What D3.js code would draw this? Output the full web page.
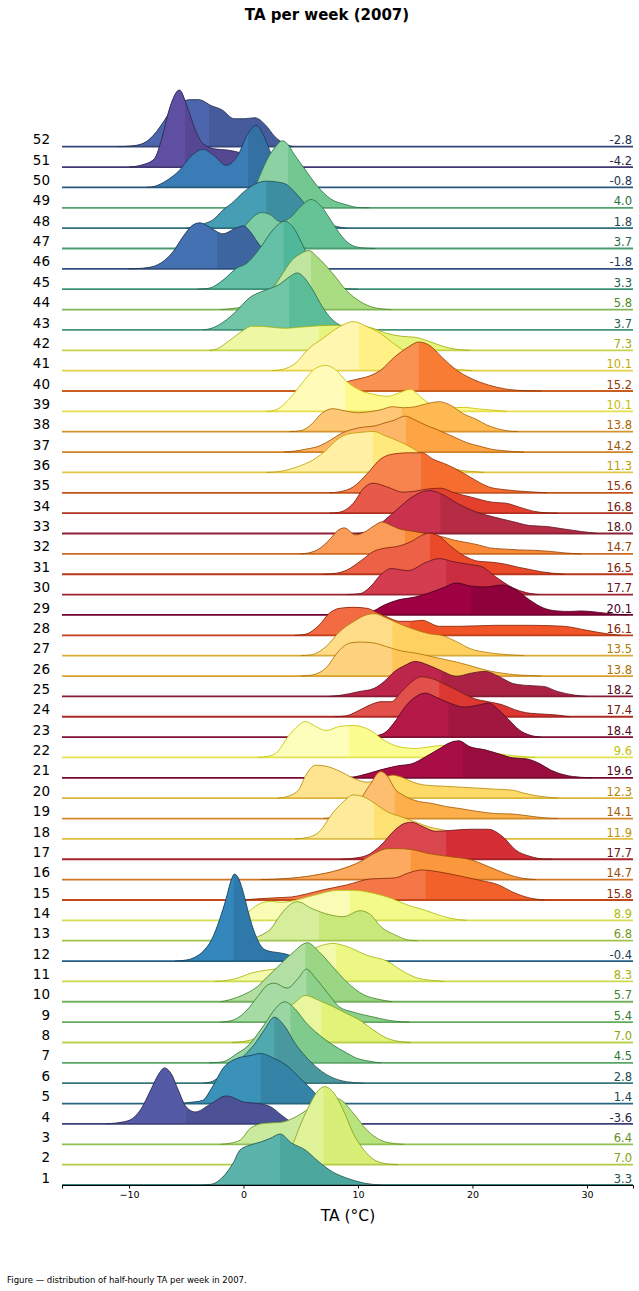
<!DOCTYPE html>
<html><head><meta charset="utf-8">
<script src="https://cdn.jsdelivr.net/npm/d3@7"></script>
<style>
body{margin:0;background:#fff;}
svg{display:block;font-family:"DejaVu Sans",sans-serif;}
</style>
</head><body>
<svg id="chart" width="639" height="1291"></svg>
<script>
// ---------------- DATA ----------------
const weeks = d3.range(1, 53);
const means = [3.3,7.0,6.4,-3.6,1.4,2.8,4.5,7.0,5.4,5.7,8.3,-0.4,6.8,8.9,15.8,14.7,17.7,11.9,14.1,12.3,
  19.6,9.6,18.4,17.4,18.2,13.8,13.5,16.1,20.1,17.7,16.5,14.7,18.0,16.8,15.6,11.3,14.2,13.8,10.1,15.2,
  10.1,7.3,3.7,5.8,3.3,-1.8,3.7,1.8,4.0,-0.8,-4.2,-2.8];
// where each ridge changes from light to dark shade (°C)
const medians = [3.2,7.0,6.2,-5.0,1.5,2.7,4.1,6.8,5.5,5.4,8.1,-0.85,6.6,9.3,15.9,14.6,17.7,11.4,13.2,11.7,
  19.2,9.2,17.9,17.1,17.3,13.0,13.0,14.5,19.9,17.7,16.3,14.1,17.2,16.4,15.5,11.3,14.2,13.8,8.9,15.3,
  10.1,6.6,4.0,5.9,3.5,-2.3,4.1,2.0,3.9,0.4,-5.1,-3.0];
const xTicks = [-10, 0, 10, 20, 30];
// density per week: [TA °C, density (arbitrary units)]
const densities = [
 [[-3.5,0],[-2.7,0.01],[-1.8,0.08],[-0.9,0.22],[-0.3,0.35],[0.6,0.40],[1.5,0.43],[2.4,0.47],[3.2,0.51],[4.2,0.42],[5.4,0.35],[6.6,0.23],[7.8,0.13],[9.0,0.07],[10.5,0.02],[12,0]],
 [[1,0],[2,0.02],[3,0.06],[3.6,0.11],[4.4,0.23],[4.8,0.35],[5.7,0.58],[6.6,0.75],[7.1,0.78],[7.8,0.73],[8.7,0.55],[9.6,0.31],[10.5,0.15],[11.4,0.05],[12.6,0.007],[13.5,0]],
 [[-2,0],[-1.2,0.01],[-0.3,0.04],[0.6,0.16],[1.8,0.21],[3.3,0.22],[4.5,0.27],[5.5,0.34],[6.5,0.42],[7.5,0.47],[8.4,0.45],[9.6,0.31],[10.8,0.14],[12.0,0.04],[13.2,0.007],[14,0]],
 [[-12,0],[-11.1,0.01],[-9.9,0.04],[-9.0,0.14],[-8.1,0.34],[-7.4,0.50],[-6.9,0.56],[-6.3,0.50],[-5.7,0.34],[-5.0,0.17],[-4.2,0.12],[-3.0,0.19],[-1.5,0.28],[0,0.22],[1.5,0.20],[2.4,0.17],[3.3,0.09],[4.2,0.02],[5,0]],
 [[-5.5,0],[-4.8,0.01],[-3.6,0.03],[-2.7,0.17],[-1.8,0.35],[-0.6,0.45],[0.6,0.48],[1.5,0.50],[2.7,0.45],[3.9,0.37],[4.8,0.27],[5.7,0.17],[6.6,0.07],[7.8,0.02],[9,0]],
 [[-3.5,0],[-2.7,0.02],[-1.5,0.12],[-0.6,0.20],[0,0.27],[0.9,0.38],[1.8,0.53],[2.7,0.66],[3.6,0.57],[4.5,0.40],[5.4,0.27],[6.0,0.20],[7.2,0.09],[8.4,0.03],[9.6,0.007],[10.5,0]],
 [[-3,0],[-1.8,0.01],[-0.6,0.09],[0.3,0.16],[1.5,0.33],[2.1,0.43],[2.7,0.53],[3.6,0.61],[4.5,0.54],[5.4,0.41],[6.6,0.28],[7.8,0.18],[9.0,0.10],[9.8,0.05],[10.8,0.02],[12,0]],
 [[-1,0],[0,0.01],[1,0.04],[2,0.12],[3,0.25],[4,0.36],[4.4,0.39],[5.4,0.47],[6.6,0.42],[7.8,0.36],[9.0,0.29],[10.2,0.22],[11.4,0.12],[12.6,0.04],[13.8,0.007],[14.6,0]],
 [[-2,0],[-0.9,0.02],[0.3,0.12],[1.2,0.25],[2.1,0.37],[2.7,0.39],[3.8,0.34],[4.8,0.44],[5.5,0.53],[6.3,0.44],[7.5,0.27],[8.4,0.15],[9.6,0.10],[11.4,0.05],[12.6,0.02],[13.8,0.003],[14.5,0]],
 [[-2,0],[-1.2,0.02],[0,0.07],[1.2,0.15],[2.1,0.25],[3.0,0.35],[4.2,0.48],[5.6,0.59],[6.6,0.50],[7.8,0.35],[9.0,0.20],[10.5,0.07],[12,0.02],[13,0]],
 [[-2.5,0],[-1.8,0.005],[-0.6,0.03],[0.6,0.08],[1.8,0.11],[3.0,0.13],[4.0,0.18],[5.0,0.25],[5.8,0.31],[6.6,0.35],[7.8,0.38],[9.0,0.35],[10.8,0.26],[12.6,0.20],[13.8,0.11],[15.3,0.03],[16.8,0.007],[17.5,0]],
 [[-6,0],[-5,0.01],[-4.2,0.04],[-3.5,0.10],[-2.8,0.21],[-2.1,0.41],[-1.5,0.63],[-1.1,0.80],[-0.8,0.87],[-0.4,0.82],[0,0.68],[0.4,0.50],[0.8,0.34],[1.2,0.22],[1.6,0.14],[2.2,0.10],[3.0,0.085],[3.7,0.07],[4.5,0.04],[5.5,0.015],[7,0]],
 [[0,0],[1,0.03],[1.8,0.07],[2.4,0.12],[3.0,0.22],[3.6,0.31],[4.7,0.39],[6.0,0.32],[7.5,0.26],[8.7,0.24],[10.2,0.30],[11.1,0.26],[12.0,0.14],[13.2,0.06],[14.4,0.007],[15.2,0]],
 [[-1,0],[0,0.04],[0.6,0.10],[1.5,0.17],[2.4,0.19],[3.3,0.18],[4.5,0.20],[5.5,0.23],[6.5,0.26],[7.5,0.29],[8.4,0.30],[9.6,0.30],[11.4,0.27],[12.9,0.22],[14.4,0.15],[15.9,0.10],[17.4,0.04],[18.6,0.01],[19.5,0]],
 [[0,0],[1,0.01],[2.5,0.02],[4.2,0.03],[5.5,0.06],[6.9,0.10],[9.0,0.15],[11.1,0.21],[13.2,0.22],[14.4,0.27],[15.6,0.30],[17.1,0.28],[18.9,0.24],[20.5,0.20],[22.3,0.15],[23.5,0.08],[25.0,0.02],[26.3,0]],
 [[1.5,0],[3.6,0.01],[6.0,0.04],[8.4,0.10],[10.2,0.18],[11.4,0.26],[12.6,0.31],[13.5,0.31],[14.7,0.30],[16.2,0.26],[18.0,0.23],[19.8,0.20],[21.4,0.13],[22.9,0.06],[24.4,0.013],[25.5,0]],
 [[8.5,0],[9.6,0.01],[10.8,0.04],[12.0,0.14],[13.2,0.29],[14.1,0.36],[14.7,0.37],[15.6,0.33],[16.8,0.28],[18.3,0.29],[19.8,0.30],[21.4,0.30],[22.6,0.23],[23.8,0.09],[25,0.03],[26.2,0.003],[27,0]],
 [[4.5,0],[5.4,0.01],[6.6,0.07],[7.8,0.26],[8.7,0.37],[9.6,0.44],[10.5,0.42],[11.4,0.36],[12.6,0.27],[13.8,0.22],[15.0,0.17],[16.2,0.12],[17.4,0.09],[18.6,0.06],[20,0.03],[21.5,0.01],[23,0]],
 [[7,0],[8,0.02],[9,0.07],[10,0.16],[11,0.33],[12,0.47],[12.6,0.42],[13.2,0.30],[14,0.23],[15,0.18],[16.5,0.15],[17.7,0.12],[18.9,0.10],[20.5,0.07],[22,0.05],[23.5,0.045],[25.3,0.02],[26.5,0.005],[27.5,0]],
 [[3,0],[3.6,0.01],[4.8,0.08],[5.4,0.22],[6.3,0.33],[7.2,0.32],[8.4,0.27],[9.6,0.20],[10.8,0.16],[12,0.19],[13,0.23],[13.8,0.21],[14.8,0.16],[15.9,0.13],[17.4,0.12],[19,0.11],[20.5,0.10],[22,0.09],[23.5,0.08],[24.5,0.05],[25.3,0.03],[26.5,0.01],[27.5,0]],
 [[8.5,0],[9.7,0.01],[10.8,0.04],[12.0,0.08],[13.5,0.12],[14.7,0.14],[15.9,0.21],[17.1,0.29],[18.0,0.35],[18.8,0.37],[19.8,0.31],[21.1,0.28],[22.3,0.24],[23.5,0.20],[24.7,0.19],[25.9,0.14],[26.8,0.08],[28.0,0.03],[29.5,0.005],[30.5,0]],
 [[1.2,0],[2.1,0.01],[3.0,0.06],[3.9,0.21],[4.8,0.32],[5.4,0.36],[6.3,0.31],[7.2,0.27],[8.4,0.31],[9.6,0.32],[11.1,0.27],[12.3,0.17],[13.5,0.11],[15,0.09],[16.5,0.11],[17.4,0.12],[18.5,0.11],[20,0.08],[21.5,0.05],[23,0.025],[24.5,0.008],[25.5,0]],
 [[10.5,0],[11.4,0.01],[12.3,0.04],[13.2,0.15],[14.1,0.30],[15.0,0.40],[15.9,0.44],[16.8,0.40],[18.0,0.34],[19.3,0.30],[20.5,0.32],[21.4,0.34],[22.3,0.27],[23.2,0.17],[24.1,0.07],[25.0,0.02],[26,0]],
 [[8,0],[9.0,0.01],[10.2,0.07],[11.1,0.12],[12.0,0.15],[12.9,0.15],[13.8,0.25],[14.7,0.35],[15.5,0.40],[16.5,0.38],[17.7,0.32],[18.9,0.25],[20.2,0.18],[21.4,0.15],[22.6,0.12],[23.7,0.07],[24.7,0.04],[25.6,0.03],[27.4,0.017],[28.5,0]],
 [[7.5,0],[8.4,0.01],[10.2,0.05],[11.4,0.08],[12.3,0.15],[13.2,0.25],[14.1,0.31],[15.0,0.35],[16.2,0.31],[17.4,0.25],[18.6,0.20],[19.8,0.23],[21.1,0.25],[22.3,0.20],[23.5,0.13],[24.7,0.11],[26.2,0.10],[27.4,0.05],[28.9,0.013],[30,0]],
 [[5,0],[6,0.01],[7.2,0.08],[8.4,0.26],[9.3,0.33],[10.2,0.34],[11.4,0.33],[12.6,0.29],[13.8,0.25],[15,0.23],[16.2,0.20],[17.4,0.17],[18.6,0.14],[19.6,0.11],[20.5,0.08],[21.5,0.05],[22.5,0.03],[23.5,0.015],[25,0.005],[26,0]],
 [[5,0],[6.0,0.01],[7.2,0.09],[8.4,0.24],[9.6,0.34],[10.8,0.41],[11.4,0.42],[12.6,0.37],[13.8,0.31],[15.0,0.26],[16.2,0.22],[17.4,0.20],[18.6,0.14],[19.8,0.07],[21.4,0.03],[23.5,0.007],[24.5,0]],
 [[4.5,0],[5.4,0.01],[6.6,0.10],[7.5,0.22],[8.4,0.27],[9.6,0.28],[10.8,0.27],[11.6,0.23],[12.6,0.18],[13.6,0.14],[14.6,0.14],[15.6,0.15],[17.1,0.09],[18.9,0.09],[22.0,0.10],[25,0.10],[28,0.09],[30,0.05],[31.9,0.013],[33,0]],
 [[8,0],[9.5,0.01],[11.1,0.03],[12.3,0.10],[13.5,0.15],[15.0,0.18],[16.2,0.22],[17.4,0.27],[18.6,0.32],[19.8,0.29],[21.1,0.28],[22.6,0.30],[23.8,0.25],[25.0,0.15],[26.2,0.07],[27.4,0.04],[28.5,0.035],[29.5,0.04],[30.7,0.03],[32.5,0.007],[33.5,0]],
 [[9,0],[10.2,0.01],[11.1,0.08],[12.0,0.20],[12.9,0.26],[14.4,0.24],[15.9,0.32],[17.1,0.36],[18.3,0.33],[19.8,0.30],[20.8,0.28],[22.0,0.18],[23.5,0.07],[24.7,0.02],[25.9,0]],
 [[7,0],[8.1,0.01],[9,0.04],[10.2,0.13],[11.4,0.23],[12.3,0.26],[13.5,0.28],[14.7,0.33],[15.6,0.39],[16.2,0.41],[17.1,0.38],[18,0.29],[18.9,0.21],[19.7,0.16],[20.5,0.13],[21.7,0.12],[22.9,0.10],[24,0.07],[24.9,0.05],[26,0.025],[27,0.01],[28,0]],
 [[5,0],[5.7,0.01],[6.6,0.05],[7.5,0.14],[8.2,0.23],[8.8,0.26],[9.8,0.19],[10.6,0.22],[11.4,0.28],[12.1,0.32],[12.8,0.29],[13.6,0.25],[14.6,0.23],[15.6,0.21],[16.6,0.19],[17.4,0.17],[18.3,0.14],[19.2,0.12],[20.5,0.09],[21.5,0.06],[22.5,0.05],[24,0.04],[25.5,0.035],[26.8,0.025],[28,0.01],[29.5,0]],
 [[9.9,0],[11.1,0.03],[12.3,0.13],[13.5,0.25],[14.8,0.37],[15.7,0.42],[16.2,0.43],[17.2,0.40],[18.7,0.30],[20.2,0.22],[21.7,0.17],[23.5,0.12],[25.0,0.08],[26.5,0.07],[27.7,0.05],[29.5,0.02],[31,0]],
 [[7.5,0],[8.4,0.01],[9.6,0.10],[10.5,0.25],[11.3,0.30],[12.6,0.26],[13.9,0.21],[15,0.22],[16,0.24],[17.2,0.25],[18.5,0.20],[19.9,0.16],[21.7,0.11],[22.9,0.10],[24.1,0.06],[25.3,0.02],[26.5,0.003],[27.5,0]],
 [[7.5,0],[8.4,0.01],[9.6,0.06],[10.8,0.19],[12.0,0.34],[13.2,0.39],[14.4,0.40],[15.6,0.40],[16.5,0.34],[17.8,0.28],[19.0,0.21],[20.2,0.13],[21.4,0.06],[22.9,0.03],[25,0.01],[26.5,0]],
 [[2,0],[3.0,0.007],[4.8,0.06],[6.0,0.12],[7.2,0.22],[8.1,0.32],[9.0,0.38],[10.2,0.40],[11.4,0.41],[12.3,0.37],[13.6,0.31],[14.8,0.24],[16,0.15],[17,0.09],[18,0.05],[19,0.02],[20,0.01],[21,0]],
 [[3.5,0],[4.5,0.01],[5.5,0.03],[6.6,0.06],[7.6,0.12],[8.6,0.19],[9.6,0.23],[10.5,0.25],[11.4,0.26],[12.3,0.29],[13.2,0.32],[14.1,0.36],[15,0.32],[15.9,0.27],[16.8,0.23],[17.6,0.19],[18.6,0.14],[19.6,0.09],[20.6,0.06],[21.6,0.03],[22.6,0.015],[23.6,0.005],[24.5,0]],
 [[4,0],[5,0.01],[6,0.08],[6.8,0.18],[7.8,0.23],[8.8,0.21],[10,0.19],[11,0.20],[12,0.22],[13,0.25],[14,0.24],[15,0.25],[16,0.28],[17.1,0.30],[18,0.27],[19.2,0.18],[20.4,0.12],[21.2,0.07],[22.2,0.03],[23,0.01],[24,0]],
 [[2,0],[2.7,0.01],[3.9,0.11],[5.1,0.28],[6.3,0.43],[7.2,0.46],[8.1,0.41],[9.0,0.30],[10.2,0.21],[11.4,0.17],[12.6,0.15],[13.5,0.18],[14.6,0.22],[15.6,0.13],[16.8,0.05],[18,0.035],[19.2,0.04],[20.5,0.025],[22,0.01],[23,0]],
 [[6,0],[7,0.005],[8,0.03],[9,0.09],[10,0.12],[11,0.15],[12,0.21],[13.2,0.34],[14.4,0.44],[15.3,0.49],[16.2,0.46],[17.4,0.33],[18.6,0.21],[19.8,0.13],[21.4,0.06],[22.9,0.02],[24.7,0.003],[26,0]],
 [[2.5,0],[3.3,0.01],[4.5,0.07],[5.7,0.22],[6.9,0.32],[8.4,0.44],[9.6,0.49],[10.8,0.44],[12.0,0.37],[12.9,0.29],[14,0.20],[15,0.13],[16,0.08],[17,0.04],[18,0.02],[19,0.01],[20,0]],
 [[-3,0],[-2.4,0.01],[-1.2,0.10],[0,0.20],[0.7,0.24],[1.5,0.24],[2.5,0.23],[3.6,0.22],[4.8,0.23],[6,0.24],[7.5,0.25],[9,0.25],[10.5,0.24],[11.3,0.22],[12.5,0.17],[13.8,0.14],[15,0.13],[16.2,0.09],[17.4,0.04],[18.6,0.01],[19.8,0]],
 [[-3.5,0],[-2.7,0.02],[-1.5,0.10],[-0.6,0.19],[0.5,0.32],[1.5,0.38],[2.2,0.41],[3.2,0.46],[4.0,0.53],[4.7,0.57],[5.4,0.51],[6.0,0.41],[6.9,0.23],[7.7,0.11],[8.4,0.05],[9.3,0.015],[10.3,0]],
 [[-2,0],[-1,0.01],[0,0.03],[1,0.07],[2,0.14],[2.6,0.22],[3.3,0.34],[4.2,0.49],[5.0,0.56],[5.7,0.59],[6.5,0.52],[7.8,0.36],[9.0,0.19],[10.2,0.08],[11.4,0.02],[12.9,0]],
 [[-4,0],[-3.0,0.01],[-1.8,0.09],[-0.6,0.21],[0.3,0.26],[1.5,0.42],[2.7,0.61],[3.6,0.68],[4.4,0.61],[5.1,0.46],[6,0.25],[7,0.10],[8,0.03],[9,0.005],[10,0]],
 [[-10,0],[-9,0.005],[-8,0.02],[-7.5,0.04],[-6.3,0.15],[-5.1,0.35],[-4.4,0.44],[-3.8,0.46],[-3.0,0.42],[-2.3,0.37],[-1.8,0.35],[-0.8,0.40],[0,0.43],[0.6,0.37],[1.2,0.27],[1.8,0.18],[2.5,0.10],[3.3,0.04],[4.3,0.01],[5.3,0]],
 [[-3,0],[-2,0.03],[-1,0.10],[0,0.21],[1,0.33],[1.6,0.36],[2.3,0.34],[3.2,0.27],[4,0.30],[5,0.42],[5.9,0.49],[6.8,0.42],[7.7,0.27],[8.6,0.12],[9.5,0.03],[10.5,0.005],[11.5,0]],
 [[-5,0],[-4,0.015],[-3.3,0.05],[-2.7,0.08],[-1.8,0.18],[-0.9,0.26],[0,0.36],[1,0.44],[2,0.47],[3,0.46],[3.7,0.44],[4.4,0.37],[5.1,0.28],[6,0.15],[7,0.06],[8,0.02],[9,0]],
 [[-1.5,0],[-0.5,0.03],[0.3,0.10],[1.1,0.23],[1.5,0.34],[2.2,0.51],[2.8,0.61],[3.4,0.67],[3.9,0.63],[4.4,0.54],[5.4,0.38],[6.5,0.21],[7.6,0.09],[9,0.03],[10,0.003],[11,0]],
 [[-8.5,0],[-7.8,0.01],[-6.7,0.07],[-5.6,0.17],[-4.6,0.31],[-3.5,0.38],[-2.6,0.32],[-1.5,0.22],[-0.5,0.32],[0.4,0.54],[1.1,0.62],[1.8,0.51],[2.4,0.34],[3.2,0.16],[4,0.06],[5,0.015],[6,0]],
 [[-10,0],[-8.9,0.02],[-7.8,0.08],[-7.1,0.30],[-6.5,0.57],[-5.6,0.77],[-4.9,0.60],[-4.2,0.37],[-3.5,0.23],[-2.4,0.18],[-1.4,0.17],[-0.5,0.15],[0.3,0.12],[1,0.09],[2,0.04],[3,0.015],[4,0]],
 [[-11,0],[-9.6,0.01],[-8.5,0.05],[-7.6,0.15],[-7.1,0.23],[-6.2,0.38],[-5.4,0.45],[-4.6,0.47],[-3.9,0.47],[-2.8,0.41],[-1.9,0.37],[-0.8,0.28],[0.1,0.28],[1.0,0.29],[1.9,0.22],[2.75,0.10],[3.6,0.03],[4.4,0]]
];
const spectral = ["#9e0142","#d53e4f","#f46d43","#fdae61","#fee08b","#ffffbf","#e6f598","#abdda4","#66c2a5","#3288bd","#5e4fa2"];

// ---------------- CHART ----------------
const svg = d3.select("#chart");
const x = d3.scaleLinear().domain([-15.85, 34.02]).range([62, 633]);
const yBase = d3.scaleLinear().domain([1, 52]).range([1185, 146.7]);
const hScale = d3.scaleLinear().domain([0, 1]).range([0, 100]);

const cmap = d3.scaleLinear()
  .domain(d3.range(spectral.length).map(i => i / (spectral.length - 1)))
  .range(spectral.slice().reverse())
  .interpolate(d3.interpolateRgb);

const order = d3.range(means.length).sort((a, b) => (means[a] - means[b]) || (a - b));
const rank = []; order.forEach((wi, r) => rank[wi] = r);

function shade(c, k) { const h = d3.hsl(c); h.l = h.l * k; return h.formatHex(); }

const defs = svg.append("defs");
const ridges = svg.append("g");

for (let i = weeks.length - 1; i >= 0; i--) {
  const y0 = yBase(weeks[i]);
  const base = d3.color(cmap(rank[i] / (weeks.length - 1))).formatHex();
  const right = shade(base, 0.9);
  const dark = shade(base, 0.45);
  const area = d3.area().x(d => x(d[0])).y0(y0).y1(d => y0 - hScale(d[1])).curve(d3.curveMonotoneX);
  const line = d3.line().x(d => x(d[0])).y(d => y0 - hScale(d[1])).curve(d3.curveMonotoneX);
  const cid = "clip" + weeks[i];
  defs.append("clipPath").attr("id", cid).append("rect")
    .attr("x", 0).attr("y", 0).attr("width", x(medians[i])).attr("height", 1291);
  const g = ridges.append("g");
  g.append("path").attr("d", area(densities[i])).attr("fill", right);
  g.append("path").attr("d", area(densities[i])).attr("fill", base).attr("clip-path", `url(#${cid})`);
  g.append("line").attr("x1", x.range()[0]).attr("x2", x.range()[1])
    .attr("y1", y0).attr("y2", y0)
    .attr("stroke", d3.interpolateRgb(right, dark)(0.45)).attr("stroke-width", 1.8);
  g.append("path").attr("d", line(densities[i])).attr("fill", "none")
    .attr("stroke", dark).attr("stroke-width", 0.9).attr("stroke-opacity", 0.9);
}

// labels
const labels = svg.append("g");
weeks.forEach((w, i) => {
  const y0 = yBase(w);
  const base = d3.color(cmap(rank[i] / (weeks.length - 1))).formatHex();
  labels.append("text").attr("x", 50).attr("y", y0 - 2.4).attr("text-anchor", "end")
    .attr("font-size", 13.5).attr("fill", "#000").text(w);
  labels.append("text").attr("x", 632).attr("y", y0 - 2.4).attr("text-anchor", "end")
    .attr("font-size", 11.5).attr("fill", shade(base, 0.45)).text(means[i].toFixed(1));
});

// x axis
const axis = svg.append("g").attr("transform", `translate(0,${yBase(1)})`)
  .call(d3.axisBottom(x).tickValues(xTicks).tickSizeOuter(0).tickSize(3.5).tickPadding(3)
    .tickFormat(d => d3.format("")(d).replace("-", "\u2212")));
axis.select(".domain").attr("stroke", "#000").attr("stroke-width", 1);
axis.selectAll(".tick line").attr("stroke", "#000");
axis.selectAll(".tick text").attr("font-size", 9.5).attr("fill", "#000")
  .attr("font-family", "DejaVu Sans, sans-serif");

svg.append("text").attr("x", 348).attr("y", 1221).attr("text-anchor", "middle")
  .attr("font-size", 15.5).text("TA (°C)");
svg.append("text").attr("x", 327).attr("y", 19.5).attr("text-anchor", "middle")
  .attr("font-size", 15).attr("font-weight", "bold").text("TA per week (2007)");
svg.append("text").attr("x", 7).attr("y", 1283)
  .attr("font-size", 8.5).text("Figure \u2014 distribution of half-hourly TA per week in 2007.");
</script>
</body></html>
